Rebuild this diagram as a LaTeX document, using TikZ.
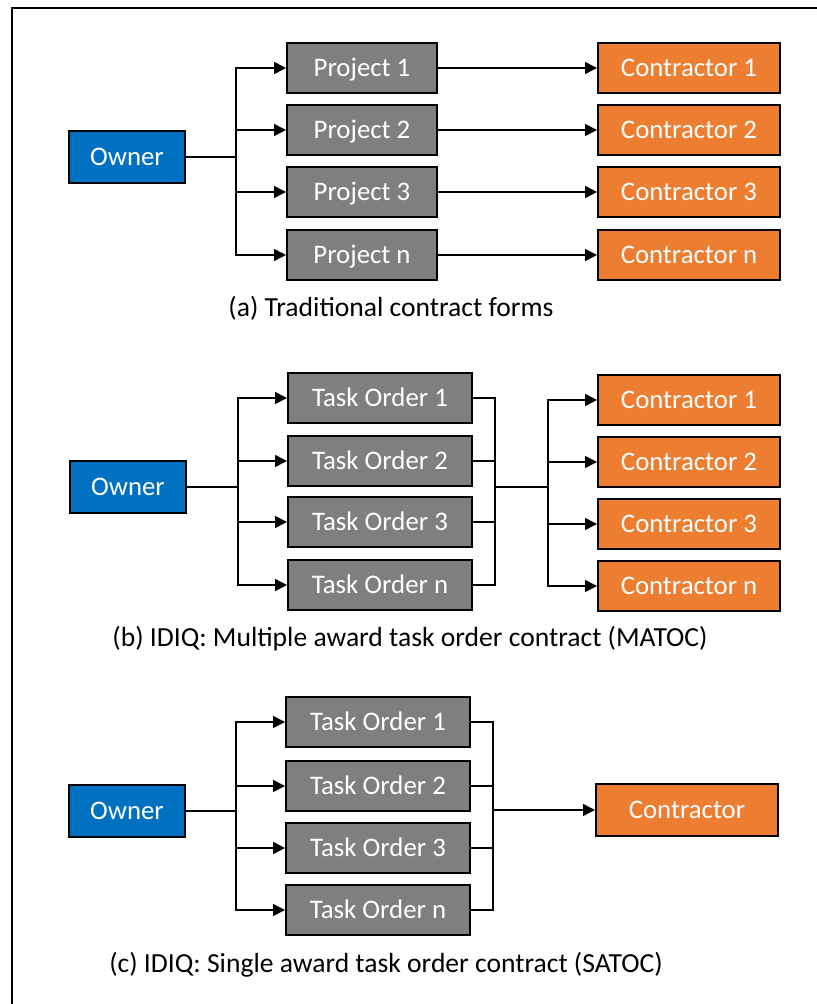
\documentclass[tikz,border=0pt]{standalone}
\usepackage{fontspec}
\setmainfont{Carlito}
\usetikzlibrary{arrows.meta}

\begin{document}
\begin{tikzpicture}[x=0.5pt, y=-0.5pt,
    box/.style={draw=black, line width=1pt, text=white, inner sep=0pt,
        minimum height=25pt, text height=8.5pt, text depth=0pt,
        font=\fontsize{13.4}{15}\selectfont},
    owner/.style={box, fill=ownerblue, minimum width=58pt, minimum height=26pt},
    project/.style={box, fill=boxgray, minimum width=75pt},
    taskorder/.style={box, fill=boxgray, minimum width=92pt},
    contractor/.style={box, fill=controrange, minimum width=91pt},
    caption/.style={text height=8.5pt, text depth=0pt,
        font=\fontsize{13.8}{15}\selectfont},
    wire/.style={line width=0.75pt},
    arrow/.style={wire, -{Triangle[length=6pt,width=6pt]}}]

    % Colors
    \definecolor{ownerblue}{RGB}{0,112,192}
    \definecolor{boxgray}{RGB}{127,127,127}
    \definecolor{controrange}{RGB}{237,125,49}

    \useasboundingbox (0,0) rectangle (817,1004);

    % Frame
    \draw[line width=1pt] (817,8.5) -- (11.5,8.5) -- (11.5,1004);

    % (a) Traditional
    \node[owner] (ownerA) at (127,157) {Owner};
    \node[project] (projA1) at (362,68) {Project 1};
    \node[project] (projA2) at (362,130) {Project 2};
    \node[project] (projA3) at (362,192) {Project 3};
    \node[project] (projAn) at (362,255) {Project n};
    \node[contractor] (conA1) at (689,68) {Contractor 1};
    \node[contractor] (conA2) at (689,130) {Contractor 2};
    \node[contractor] (conA3) at (689,192) {Contractor 3};
    \node[contractor] (conAn) at (689,255) {Contractor n};
    \node[caption] (capA) at (391,308) {(a) Traditional contract forms};

    \coordinate (busA) at (236,157);
    \draw[wire] (ownerA) -- (busA);
    \foreach \i in {1,2,3,n} {
        \draw[arrow] (busA) |- (projA\i);
        \draw[arrow] (projA\i) -- (conA\i);
    }

    % (b) MATOC
    \node[owner] (ownerB) at (128,487) {Owner};
    \node[taskorder] (toB1) at (380,398) {Task Order 1};
    \node[taskorder] (toB2) at (380,461) {Task Order 2};
    \node[taskorder] (toB3) at (380,522) {Task Order 3};
    \node[taskorder] (toBn) at (380,585) {Task Order n};
    \node[contractor] (conB1) at (689,400) {Contractor 1};
    \node[contractor] (conB2) at (689,462) {Contractor 2};
    \node[contractor] (conB3) at (689,524) {Contractor 3};
    \node[contractor] (conBn) at (689,586) {Contractor n};
    \node[caption] (capB) at (410,638) {(b) IDIQ: Multiple award task order contract (MATOC)};

    \coordinate (busB) at (238,487);
    \coordinate (joinB) at (495,487);
    \coordinate (splitB) at (548,487);
    \draw[wire] (ownerB) -- (busB);
    \draw[wire] (joinB) -- (splitB);
    \foreach \i in {1,2,3,n} {
        \draw[arrow] (busB) |- (toB\i);
        \draw[wire] (toB\i) -| (joinB);
        \draw[arrow] (splitB) |- (conB\i);
    }

    % (c) SATOC
    \node[owner] (ownerC) at (127,811) {Owner};
    \node[taskorder] (toC1) at (378,722) {Task Order 1};
    \node[taskorder] (toC2) at (378,786) {Task Order 2};
    \node[taskorder] (toC3) at (378,848) {Task Order 3};
    \node[taskorder] (toCn) at (378,910) {Task Order n};
    \node[contractor, minimum height=26pt] (conC) at (687,810) {Contractor};
    \node[caption] (capC) at (386,964) {(c) IDIQ: Single award task order contract (SATOC)};

    \coordinate (busC) at (236,811);
    \coordinate (joinC) at (493,810);
    \draw[wire] (ownerC) -- (busC);
    \draw[arrow] (joinC) -- (conC);
    \foreach \i in {1,2,3,n} {
        \draw[arrow] (busC) |- (toC\i);
        \draw[wire] (toC\i) -| (joinC);
    }

\end{tikzpicture}
\end{document}
